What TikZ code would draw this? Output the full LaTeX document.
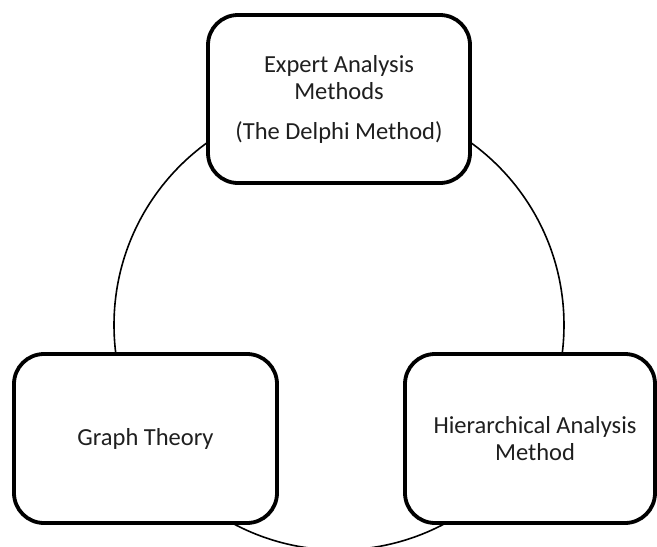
\documentclass[tikz,border=0pt]{standalone}
\usepackage{fontspec}
\setmainfont{Carlito}
\begin{document}
\begin{tikzpicture}[x=1pt,y=-1pt,
  boxnode/.style={draw=black, line width=3.8pt, rounded corners=30pt, fill=white, align=center,
    inner sep=0pt},
  boxtext/.style={align=center, inner sep=0pt, font=\fontsize{24.5}{27}\selectfont, text=black!88},
  ring/.style={draw=black, line width=1.6pt, circle, inner sep=0pt}]
\useasboundingbox (0,0) rectangle (657,547);
\node[ring, minimum size=450pt] (ring) at (339,325) {};
\node[boxnode, minimum width=262pt, minimum height=168pt] (expert) at (339,99) {};
\node[boxtext] (experttext) at (expert.center)
  {Expert Analysis\\Methods\\[13pt](The Delphi Method)};
\node[boxnode, minimum width=263pt, minimum height=169pt] (graph) at (145.5,438.5) {};
\node[boxtext] (graphtext) at (graph.center) {Graph Theory};
\node[boxnode, minimum width=250pt, minimum height=169pt] (hier) at (530,438.5) {};
\node[boxtext, xshift=5pt] (hiertext) at (hier.center) {Hierarchical Analysis\\Method};
\end{tikzpicture}
\end{document}
